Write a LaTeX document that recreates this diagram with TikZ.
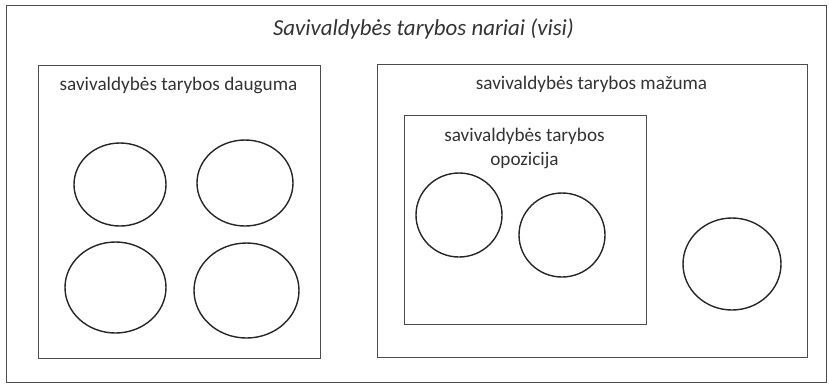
\documentclass[tikz,border=0pt]{standalone}
\usepackage{fontspec}
\setmainfont{Carlito}
\begin{document}
\begin{tikzpicture}[x=1pt,y=-1pt,
  frame/.style={draw=black!70,line width=0.9pt},
  member/.style={draw=black!85,line width=1.4pt},
  lbl/.style={text=black!80,font=\fontsize{19.2}{24}\selectfont,inner sep=0pt,anchor=base}]
\useasboundingbox (0,0) rectangle (829,384);
\draw[frame] (6,5) rectangle (826,382);
\node[lbl,font=\fontsize{22.9}{26}\selectfont\itshape] (title) at (423.5,35) {Savivaldybės tarybos nariai (visi)};
% majority
\draw[frame] (38,65) rectangle (320,358);
\node[lbl] (maj) at (178.5,90) {savivaldybės tarybos dauguma};
\draw[member] (120,184.5) ellipse [x radius=46,y radius=41.5];
\draw[member] (245,183) ellipse [x radius=48,y radius=43];
\draw[member] (115.5,287.5) ellipse [x radius=50.5,y radius=45.5];
\draw[member] (246.5,290.5) ellipse [x radius=52.5,y radius=47.5];
% minority
\draw[frame] (377,64) rectangle (807,357);
\node[lbl] (min) at (591.5,89) {savivaldybės tarybos mažuma};
\draw[frame] (404,115) rectangle (646,324);
\node[lbl,font=\fontsize{19.2}{24}\selectfont,align=center,anchor=base] (opp) at (524.5,165) {savivaldybės tarybos\\opozicija};
\draw[member] (459,215) ellipse [x radius=43,y radius=42];
\draw[member] (562,235) ellipse [x radius=43,y radius=42];
\draw[member] (732,264) ellipse [x radius=49,y radius=46];
\end{tikzpicture}
\end{document}
